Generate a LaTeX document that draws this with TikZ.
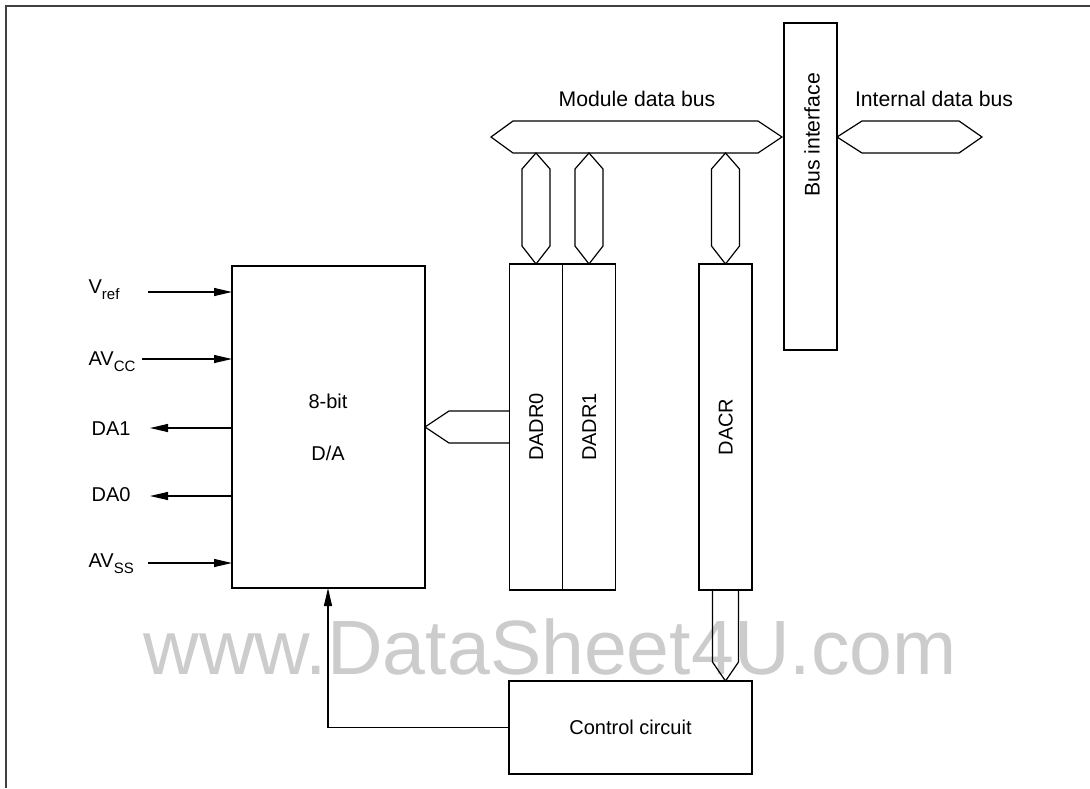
\documentclass[tikz,border=0pt]{standalone}
\usepackage{fontspec}
\setmainfont{Liberation Sans}
\usetikzlibrary{arrows.meta,calc}
\newcommand\sbs[1]{\raisebox{-6pt}{\fontsize{15}{15}\selectfont #1}}
\begin{document}
\begin{tikzpicture}[x=1pt,y=-1pt,line width=1.2pt,
  font=\fontsize{20}{24}\selectfont,
  box/.style={draw,outer sep=0pt,inner sep=0pt,anchor=north west},
  lbl/.style={inner sep=0pt,text height=14.3pt,text depth=0pt},
  buslbl/.style={lbl,font=\fontsize{21.2}{24}\selectfont,text height=15.2pt},
  sig/.style={inner sep=0pt,anchor=base west},
  arr/.style={-{Triangle[length=18pt,width=8pt]}},
  bus/.style={draw,line join=miter,fill=white}]
\useasboundingbox (0,0) rectangle (1090,788);
% watermark
\node[lbl,text=black!20,font=\fontsize{77}{80}\selectfont,text height=55pt] (wm) at (550,647) {www.DataSheet4U.com};
% frame
\draw[black!75] (6,788) -- (6,6) -- (1090,6);
% blocks
\node[box,minimum width=193pt,minimum height=322pt] (da) at (232,266) {};
\node[box,minimum width=53pt,minimum height=326pt] (dadr0) at (509.5,264) {};
\node[box,minimum width=53pt,minimum height=326pt] (dadr1) at (562.5,264) {};
\node[box,minimum width=53pt,minimum height=326pt] (dacr) at (699,264) {};
\node[box,minimum width=53pt,minimum height=327pt] (busif) at (784,23) {};
\node[box,minimum width=243pt,minimum height=93pt] (ctrl) at (509,681) {};
% block texts
\node[lbl] (t8bit) at (328,401) {8-bit};
\node[lbl] (tda) at (328,453) {D/A};
\node[lbl,rotate=90] (tdadr0) at (dadr0.center) {DADR0};
\node[lbl,rotate=90] (tdadr1) at (dadr1.center) {DADR1};
\node[lbl,rotate=90] (tdacr) at (dacr.center) {DACR};
\node[buslbl,rotate=90] (tbusif) at (812,135) {Bus interface};
\node[lbl] (tctrl) at (ctrl.center) {Control circuit};
\node[buslbl] (tmdb) at (637,99) {Module data bus};
\node[buslbl] (tidb) at (934,99) {Internal data bus};
% module data bus
\draw[bus] (491,137) -- (513,121) -- (758,121) -- (782,137) -- (758,153) -- (513,153) -- cycle;
% internal data bus
\draw[bus] (busif.east |- 0,137) -- (862,121) -- (959,121) -- (982,137) -- (959,153) -- (862,153) -- cycle;
% vertical buses
\foreach \xc/\nd in {536/dadr0,589/dadr1,725.5/dacr}{
  \draw[bus] (\xc,153) -- (\xc+14,169) -- (\xc+14,246) -- (\nd.north)
    -- (\xc-14,246) -- (\xc-14,169) -- cycle;
}
% D/A <- DADR0 bus
\draw[line join=miter] (dadr0.west |- 0,411) -- (449,411) -- (da.east) -- (449,443) -- (dadr0.west |- 0,443);
% DACR -> control
\draw[line join=miter] (712.5,590) -- (712.5,662) -- (dacr.south |- ctrl.north) -- (738.5,662) -- (738.5,590);
% control -> D/A
\coordinate (fb) at (328,588);
\draw[arr] (ctrl.west) -| (fb);
% left signals
\node[sig] (lvref) at (88,293) {V\sbs{ref}};
\node[sig] (lavcc) at (88,365) {AV\sbs{CC}};
\node[sig] (lda1) at (91,435) {DA1};
\node[sig] (lda0) at (91,501) {DA0};
\node[sig] (lavss) at (88,567) {AV\sbs{SS}};
\coordinate (s1) at (148,292);
\coordinate (s2) at (142,359);
\coordinate (s3) at (150,428);
\coordinate (s4) at (150,496);
\coordinate (s5) at (148,563);
\draw[arr] (s1) -- (s1 -| da.west);
\draw[arr] (s2) -- (s2 -| da.west);
\draw[arr] (s3 -| da.west) -- (s3);
\draw[arr] (s4 -| da.west) -- (s4);
\draw[arr] (s5) -- (s5 -| da.west);
\end{tikzpicture}
\end{document}
